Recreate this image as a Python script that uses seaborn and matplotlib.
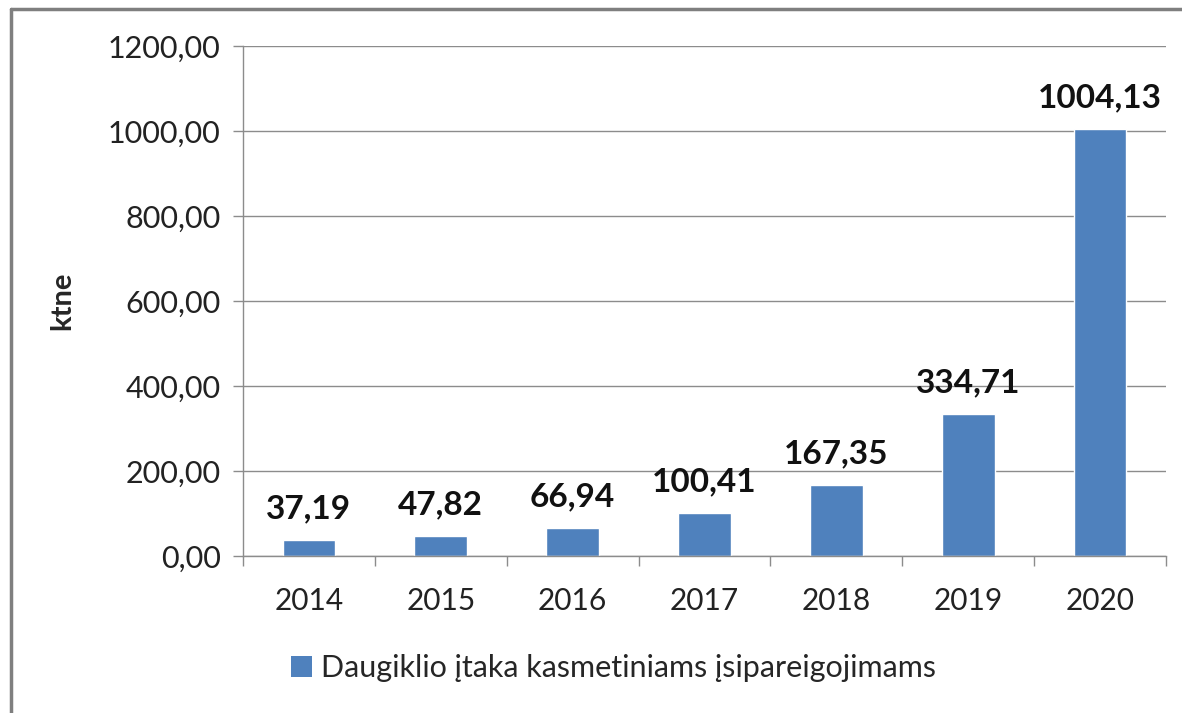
import matplotlib
matplotlib.use('Agg')
import matplotlib.pyplot as plt
import seaborn as sns
from matplotlib.patches import Patch
from matplotlib.lines import Line2D

years = ['2014', '2015', '2016', '2017', '2018', '2019', '2020']
values = [37.19, 47.82, 66.94, 100.41, 167.35, 334.71, 1004.13]
series_name = 'Daugiklio įtaka kasmetiniams įsipareigojimams'
y_label = 'ktne'

bar_color = '#4F81BD'
grid_color = '#8c8c8c'

sns.set_style('white')
plt.rcParams['font.family'] = ['Lato', 'DejaVu Sans']

fig = plt.figure(figsize=(11.82, 7.13), dpi=100)
ax = fig.add_axes([243 / 1182, 1 - 556 / 713, 923 / 1182, 510 / 713])

sns.barplot(x=years, y=values, color=bar_color, width=0.4, saturation=1, ax=ax)

def fmt(v):
    return f'{v:.2f}'.replace('.', ',')

for i, v in enumerate(values):
    ax.annotate(fmt(v), (i, v), xytext=(0, 12), textcoords='offset points',
                ha='center', va='bottom', fontsize=24, fontweight='bold', color='#111111')

ax.set_ylim(0, 1200)
ax.set_xlim(-0.5, len(years) - 0.5)
yt = list(range(0, 1201, 200))
ax.set_yticks(yt)
ax.set_yticklabels([fmt(t) for t in yt], fontsize=22, color='#222222')
ax.tick_params(axis='y', length=7, width=1, color=grid_color, pad=9, left=True)
ax.tick_params(axis='x', which='major', length=0, pad=22, labelsize=21.5, labelcolor='#222222')
ax.set_xticks([i - 0.5 for i in range(len(years) + 1)], minor=True)
ax.tick_params(axis='x', which='minor', length=7, width=1, color=grid_color, bottom=True)

ax.yaxis.grid(True, color=grid_color, linewidth=1)
ax.set_axisbelow(True)
for side in ['top', 'right']:
    ax.spines[side].set_visible(False)
for side in ['left', 'bottom']:
    ax.spines[side].set_color(grid_color)
    ax.spines[side].set_linewidth(1)

ax.set_ylabel(y_label, fontsize=21, fontweight='bold')
ax.yaxis.set_label_coords(-0.182, 0.5)

handle = Patch(facecolor=bar_color, edgecolor='none')
fig.legend([handle], [series_name], loc='center', bbox_to_anchor=(0.519, 1 - 668 / 713),
           frameon=False, fontsize=22, handlelength=0.7, handleheight=0.7, handletextpad=0.3)

# outer frame
fig.add_artist(Line2D([11 / 1182, 11 / 1182], [0, 1 - 9 / 713], transform=fig.transFigure,
                      color='#7f7f7f', linewidth=2.5))
fig.add_artist(Line2D([11 / 1182, 1], [1 - 9 / 713, 1 - 9 / 713], transform=fig.transFigure,
                      color='#7f7f7f', linewidth=2.5))

fig.savefig('out.png', dpi=100)
